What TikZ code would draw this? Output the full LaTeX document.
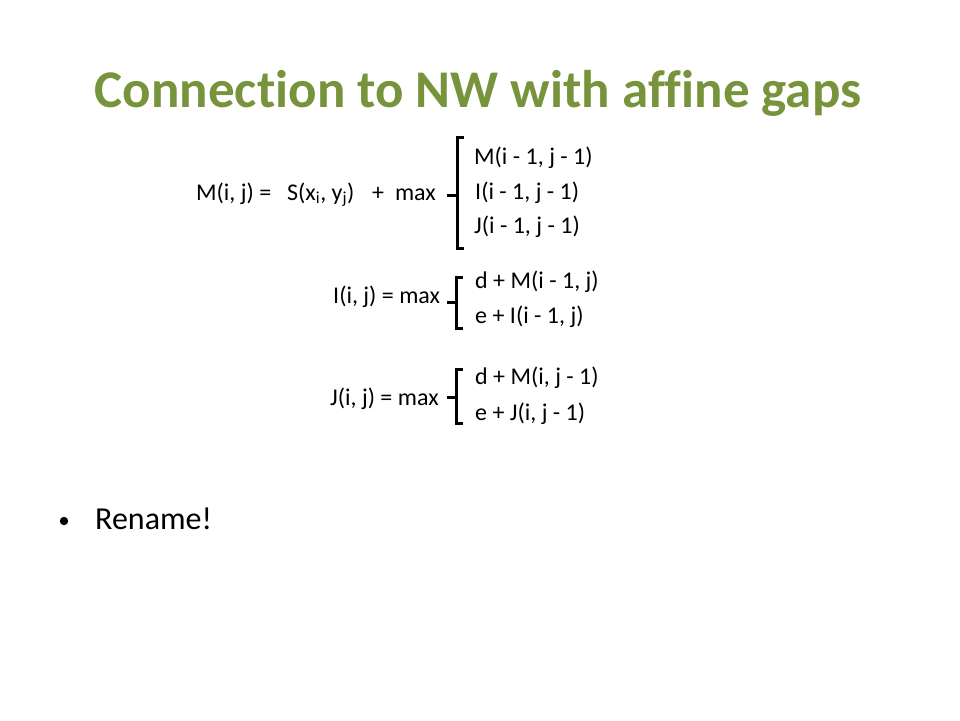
\documentclass[tikz,border=0pt]{standalone}
\usepackage{fontspec}
\setmainfont{Carlito}[Ligatures=CommonOff]
\usetikzlibrary{positioning}
\definecolor{titlegreen}{RGB}{119,147,60}
\begin{document}
\begin{tikzpicture}[x=1pt,y=-1pt,
  txt/.style={inner sep=0pt,anchor=base west,font=\fontsize{24}{28}\selectfont},
  brk/.style={line width=3pt,line cap=butt}]
	\useasboundingbox (0,0) rectangle (960,720);
	\node[inner sep=0pt,anchor=base,text=titlegreen,font=\bfseries\fontsize{53}{60}\selectfont] (title) at (478,107) {Connection to NW with affine gaps};
	\node[txt] (mlhs) at (196,200) {M(i, j) =};
	\node[txt] (mscore) at (287,200) {S(x\textsubscript{i}, y\textsubscript{j})};
	\node[txt] (mmax) at (372,200) {+\ \ max};
	\node[txt] (mrow1) at (474,164) {M(i - 1, j - 1)};
	\node[txt] (mrow2) at (475,199) {I(i - 1, j - 1)};
	\node[txt] (mrow3) at (474,233) {J(i - 1, j - 1)};
	\draw[brk] (464,137) -- (457,137) -- (457,248) -- (464,248);
	\draw[brk] (457,195) -- (447,195);
	\node[txt] (ilhs) at (333,303) {I(i, j) = max};
	\node[txt] (irow1) at (475,288) {d + M(i - 1, j)};
	\node[txt] (irow2) at (475,323) {e + I(i - 1, j)};
	\draw[brk] (463,277) -- (456,277) -- (456,328) -- (463,328);
	\draw[brk] (456,302) -- (447,302);
	\node[txt] (jlhs) at (330,405) {J(i, j) = max};
	\node[txt] (jrow1) at (475,384) {d + M(i, j - 1)};
	\node[txt] (jrow2) at (475,420) {e + J(i, j - 1)};
	\draw[brk] (463,369) -- (456,369) -- (456,423) -- (463,423);
	\draw[brk] (456,397) -- (447,397);
	\fill (64,521) circle (4.2) coordinate (bullet);
	\node[txt,font=\fontsize{32}{38}\selectfont] (rename) at (95,529) {Rename!};
\end{tikzpicture}
\end{document}
